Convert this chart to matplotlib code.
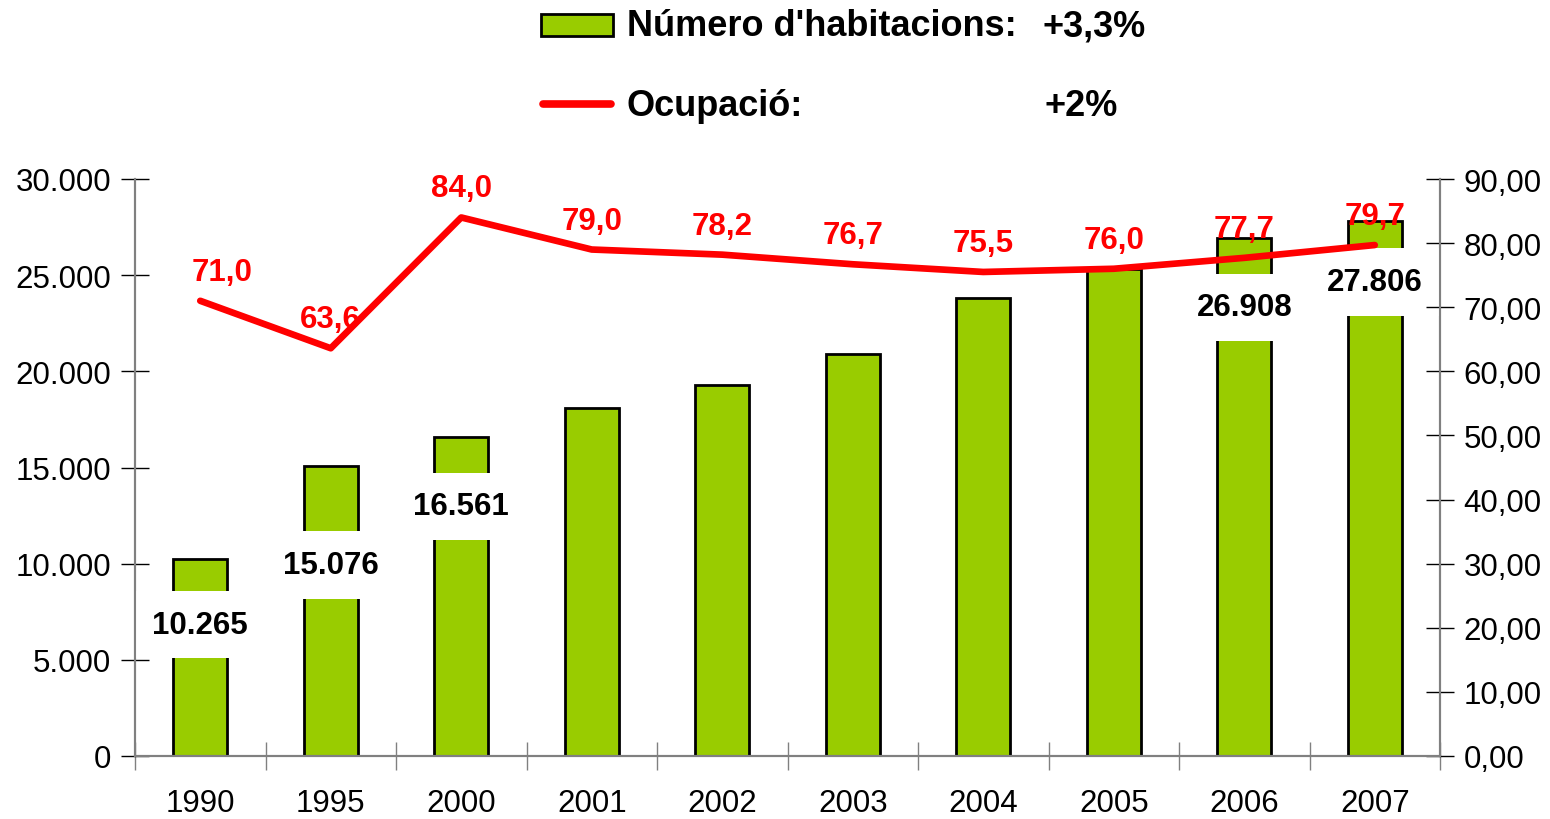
import matplotlib.pyplot as plt
from matplotlib.patches import Rectangle
from matplotlib.lines import Line2D

plt.rcParams['font.family'] = ['Liberation Sans', 'DejaVu Sans']

# data
years = ['1990', '1995', '2000', '2001', '2002', '2003', '2004', '2005', '2006', '2007']
rooms = [10265, 15076, 16561, 18100, 19300, 20900, 23800, 25300, 26908, 27806]
occupancy = [71.0, 63.6, 84.0, 79.0, 78.2, 76.7, 75.5, 76.0, 77.7, 79.7]
# only some bars carry a value label
labelled = {0: '10.265', 1: '15.076', 2: '16.561', 8: '26.908', 9: '27.806'}
label_drop = {0: 66, 1: 99, 2: 69, 8: 69, 9: 61}  # px below bar top

green = '#99CC00'
red = '#FF0000'
grey = '#808080'


def fmt_es(v, dec):
    s = f'{v:,.{dec}f}'
    return s.replace(',', 'X').replace('.', ',').replace('X', '.')


fig = plt.figure(figsize=(15.5, 8.2), dpi=100)
ax = fig.add_axes([135 / 1550, 1 - 757 / 820, 1305 / 1550, 577 / 820])
ax2 = ax.twinx()

x = list(range(len(years)))
ax.bar(x, rooms, width=0.41, color=green, edgecolor='black', linewidth=2, zorder=2)
ax.set_xlim(-0.5, len(years) - 0.5)
ax.set_ylim(0, 30000)
ax.set_yticks(range(0, 30001, 5000))
ax.set_yticklabels([fmt_es(v, 0) for v in range(0, 30001, 5000)], fontsize=22.5)
ax.set_xticks(x)
ax.set_xticklabels(years, fontsize=22.5)
ax.set_xticks([i + 0.5 for i in range(-1, len(years))], minor=True)
ax.tick_params(axis='x', which='major', length=0, pad=23)
ax.tick_params(axis='x', which='minor', direction='inout', length=20, width=1, color=grey)
ax.tick_params(axis='y', direction='inout', length=20, width=1, color='black', pad=7)

ax2.set_ylim(0, 90)
ax2.set_yticks(range(0, 91, 10))
ax2.set_yticklabels([fmt_es(v, 2) for v in range(0, 91, 10)], fontsize=22.5)
ax2.tick_params(axis='y', direction='inout', length=20, width=1, color='black', pad=7)
ax2.plot(x, occupancy, color=red, linewidth=4.8, solid_capstyle='round', zorder=3)

for a in (ax, ax2):
    a.spines['top'].set_visible(False)
    for side in ('left', 'right', 'bottom'):
        a.spines[side].set_color(grey)
        a.spines[side].set_linewidth(1.5)

# bar value labels with white boxes
for i, txt in labelled.items():
    ax.annotate(txt, (x[i], rooms[i]), xytext=(0, -label_drop[i]), textcoords='offset pixels',
                ha='center', va='center', fontsize=22.5, fontweight='bold', color='black',
                bbox=dict(boxstyle='square,pad=0.6', facecolor='white', edgecolor='none'),
                zorder=5)

# occupancy labels
for i, v in enumerate(occupancy):
    dx = 22 if i == 0 else 0
    ax2.annotate(fmt_es(v, 1), (x[i], v), xytext=(dx, 29), textcoords='offset pixels',
                 ha='center', va='center', fontsize=22.5, fontweight='bold', color=red, zorder=6)

# legend drawn by hand at the top
fig.patches.append(Rectangle((541 / 1550, 1 - 37 / 820), 72 / 1550, 22 / 820,
                             transform=fig.transFigure, facecolor=green,
                             edgecolor='black', linewidth=2))
fig.lines.append(Line2D([543 / 1550, 611 / 1550], [1 - 105 / 820, 1 - 105 / 820],
                        transform=fig.transFigure, color=red, linewidth=5.5,
                        solid_capstyle='round'))
fig.text(627 / 1550, 1 - 27 / 820, "Número d'habitacions:", fontsize=26,
         fontweight='bold', va='center', ha='left')
fig.text(1043 / 1550, 1 - 27 / 820, '+3,3%', fontsize=26, fontweight='bold',
         va='center', ha='left')
fig.text(627 / 1550, 1 - 107 / 820, 'Ocupació:', fontsize=26, fontweight='bold',
         va='center', ha='left')
fig.text(1045 / 1550, 1 - 107 / 820, '+2%', fontsize=26, fontweight='bold',
         va='center', ha='left')

fig.savefig('out.png', dpi=100)
